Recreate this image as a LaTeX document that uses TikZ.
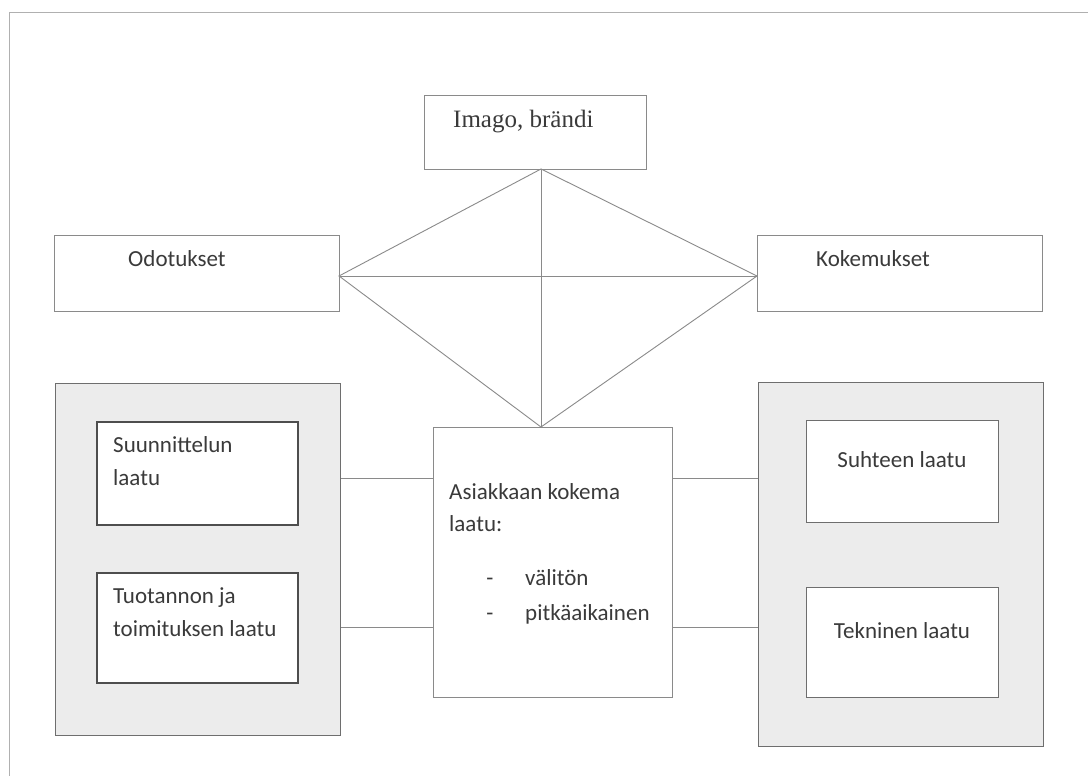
\documentclass[tikz,border=0pt]{standalone}
\usepackage{fontspec}
\setmainfont{Carlito}
\newfontfamily\serifimago{Liberation Serif}
\definecolor{txt}{HTML}{3A3A3A}
\definecolor{linegray}{HTML}{8A8A8A}
\definecolor{boxgray}{HTML}{6E6E6E}
\definecolor{innergray}{HTML}{4E4E4E}
\definecolor{panelfill}{HTML}{ECECEC}
\definecolor{framegray}{HTML}{B0B0B0}
\begin{document}
\begin{tikzpicture}[x=1pt,y=-1pt,
  box/.style={draw=linegray, line width=0.9pt, fill=white, rectangle, inner sep=0pt, anchor=north west},
  panel/.style={draw=boxgray, line width=1.1pt, fill=panelfill, rectangle, inner sep=0pt, anchor=north west},
  inbox/.style={draw=innergray, line width=1.6pt, fill=white, rectangle, inner sep=0pt, anchor=north west},
  lbl/.style={text=txt, inner sep=0pt, anchor=base west, font=\fontsize{23}{28}\selectfont},
  clbl/.style={text=txt, inner sep=0pt, anchor=base, font=\fontsize{23}{28}\selectfont},
  conn/.style={draw=linegray, line width=0.9pt}]
\useasboundingbox (0,0) rectangle (1088,776);
\fill[white] (0,0) rectangle (1088,776);
% page frame
\draw[framegray, line width=1.6pt] (9.5,776) -- (9.5,12.5) -- (1088,12.5);

% top boxes
\node[box, minimum width=222pt, minimum height=74pt] (imago) at (424,95) {};
\node[text=txt, inner sep=0pt, anchor=base west, font=\serifimago\fontsize{25}{30}\selectfont] (imagoT) at (453,128) {Imago, brändi};
\node[box, minimum width=285pt, minimum height=76pt] (odot) at (54,235) {};
\node[lbl] (odotT) at (128,266) {Odotukset};
\node[box, minimum width=285pt, minimum height=76pt] (kok) at (757,235) {};
\node[lbl] (kokT) at (816,266) {Kokemukset};

% panels
\node[panel, minimum width=285pt, minimum height=352pt] (lpanel) at (55,383) {};
\node[panel, minimum width=285pt, minimum height=364pt] (rpanel) at (758,382) {};

% inner boxes left
\node[inbox, minimum width=201pt, minimum height=103pt] (suun) at (96,421) {};
\node[lbl] (suunT1) at (113,452) {Suunnittelun};
\node[lbl] (suunT2) at (113,485) {laatu};
\node[inbox, minimum width=201pt, minimum height=110pt] (tuot) at (96,572) {};
\node[lbl] (tuotT1) at (113,603) {Tuotannon ja};
\node[lbl] (tuotT2) at (113,636) {toimituksen laatu};

% inner boxes right
\node[box, draw=boxgray, line width=1.1pt, minimum width=192pt, minimum height=102pt] (suht) at (806,420) {};
\node[clbl] (suhtT) at (902,467) {Suhteen laatu};
\node[box, draw=boxgray, line width=1.1pt, minimum width=192pt, minimum height=110pt] (tek) at (806,587) {};
\node[clbl] (tekT) at (902,638) {Tekninen laatu};

% center box
\node[box, minimum width=239pt, minimum height=270pt] (center) at (433,427) {};
\node[lbl] (cT1) at (449,499) {Asiakkaan kokema};
\node[lbl] (cT2) at (449,531) {laatu:};
\node[clbl] (d1) at (490,585) {-};
\node[lbl] (cT3) at (525,585) {välitön};
\node[clbl] (d2) at (490,620) {-};
\node[lbl] (cT4) at (525,620) {pitkäaikainen};

% diamond
\coordinate (apex) at (541,169);
\coordinate (bot) at (541,427);
\coordinate (lp) at (339,276);
\coordinate (rp) at (757,276);
\draw[conn] (lp) -- (apex) -- (rp) -- (bot) -- cycle;
\draw[conn] (apex) -- (bot);
\draw[conn] (lp) -- (rp);

% horizontal connectors
\draw[conn] (lpanel.east |- 0,478) -- (center.west |- 0,478);
\draw[conn] (lpanel.east |- 0,627) -- (center.west |- 0,627);
\draw[conn] (center.east |- 0,478) -- (rpanel.west |- 0,478);
\draw[conn] (center.east |- 0,627) -- (rpanel.west |- 0,627);
\end{tikzpicture}
\end{document}
